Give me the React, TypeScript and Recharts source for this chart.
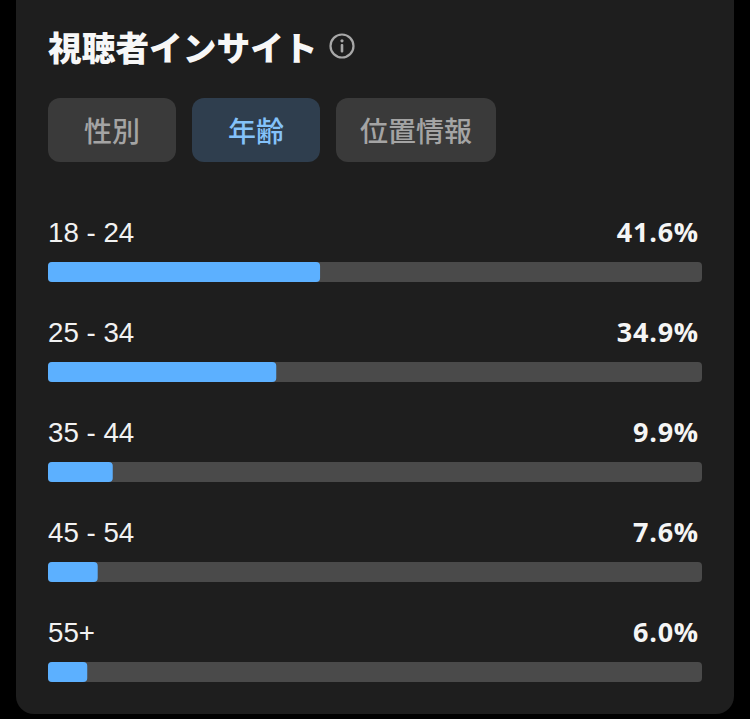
import type { FC } from 'react';
import { Bar, BarChart, LabelList, XAxis, YAxis } from 'recharts';

const ageGroups = ['18 - 24', '25 - 34', '35 - 44', '45 - 54', '55+'];
const shares = [41.6, 34.9, 9.9, 7.6, 6.0];
const tabs = ['性別', '年齢', '位置情報'];
const activeTab = '年齢';

const data = ageGroups.map((group, i) => ({ group, share: shares[i] }));

const JP = '"Noto Sans CJK JP", sans-serif';
const PLOT_RIGHT = 702;

// row label sits above the bar, percentage at the far right of the track
const RowLabels = (props: any) => {
	const { x, y, value, index } = props;
	return (
		<g>
			<text x={x} y={y - 20} fill='#f2f2f2' fontSize={27.7} fontFamily='"Liberation Sans", sans-serif'>
				{ageGroups[index]}
			</text>
			<text
				x={PLOT_RIGHT - 3}
				y={y - 20}
				textAnchor='end'
				fill='#f5f5f5'
				fontSize={27}
				fontWeight={700}
				letterSpacing={0.8}
				fontFamily='"Open Sans", sans-serif'
			>
				{`${Number(value).toFixed(1)}%`}
			</text>
		</g>
	);
};

const InfoIcon: FC = () => (
	<svg width={28} height={28} viewBox='0 0 28 28' style={{ position: 'absolute', left: 328, top: 32 }}>
		<circle cx={14} cy={14} r={11.5} fill='none' stroke='#a8a8a8' strokeWidth={2.2} />
		<circle cx={14} cy={8.8} r={1.6} fill='#a8a8a8' />
		<rect x={12.7} y={12} width={2.6} height={8.5} rx={1} fill='#a8a8a8' />
	</svg>
);

const App: FC = () => (
	<div style={{ position: 'fixed', left: 0, top: 0, width: 750, height: 719, background: '#000', overflow: 'hidden' }}>
		<div
			style={{
				position: 'absolute',
				left: 16,
				top: -20,
				width: 718,
				height: 734,
				background: '#1e1e1e',
				borderRadius: 18
			}}
		/>
		<div
			style={{
				position: 'absolute',
				left: 48,
				top: 22,
				fontFamily: JP,
				fontSize: 33.7,
				lineHeight: '50px',
				fontWeight: 900,
				color: '#f7f7f7',
				whiteSpace: 'nowrap'
			}}
		>
			視聴者インサイト
		</div>
		<InfoIcon />
		<div style={{ position: 'absolute', left: 48, top: 98, display: 'flex', gap: 16 }}>
			{tabs.map(tab => (
				<div
					key={tab}
					style={{
						width: tab.length > 2 ? 160 : 128,
						height: 64,
						lineHeight: '64px',
						textAlign: 'center',
						borderRadius: 12,
						background: tab === activeTab ? '#2f3e4e' : '#3a3a3a',
						color: tab === activeTab ? '#84c2fa' : '#a4a4a4',
						fontFamily: JP,
						fontSize: 28,
						fontWeight: 500
					}}
				>
					{tab}
				</div>
			))}
		</div>
		<div style={{ position: 'absolute', left: 0, top: 0 }}>
			<BarChart
				width={750}
				height={730}
				data={data}
				layout='vertical'
				margin={{ top: 222, right: 48, bottom: 8, left: 48 }}
			>
				<XAxis type='number' domain={[0, 100]} hide />
				<YAxis type='category' dataKey='group' hide />
				<Bar
					dataKey='share'
					barSize={20}
					fill='#5cb0ff'
					radius={4}
					background={{ fill: '#4a4a4a', radius: 4 }}
					isAnimationActive={false}
				>
					<LabelList dataKey='share' content={RowLabels} />
				</Bar>
			</BarChart>
		</div>
	</div>
);

export default App;
